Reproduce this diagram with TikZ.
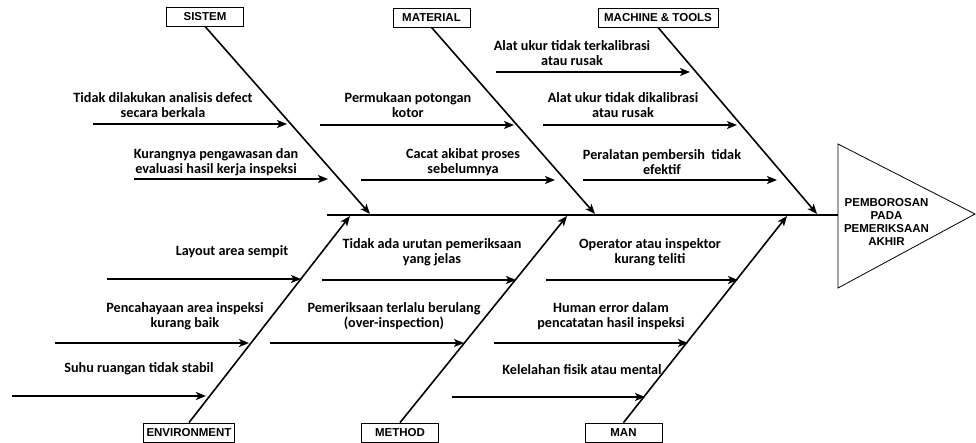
\documentclass[tikz,border=0pt]{standalone}
\usepackage{fontspec}
\setmainfont{Carlito}
\newfontfamily\arialfont{Liberation Sans}
\usepackage{tikz}
\usetikzlibrary{calc,positioning,arrows.meta}

\tikzset{
	cause/.style={font=\bfseries\fontsize{14.2}{15}\selectfont,align=center,inner sep=0pt},
	catbox/.style={draw,line width=0.8pt,font=\arialfont\bfseries\fontsize{11.5}{13}\selectfont,
		minimum width=77pt,minimum height=19pt,inner xsep=3pt,inner ysep=0pt},
	bone/.style={line width=1.6pt},
	twig/.style={line width=1.5pt},
	spine/.style={line width=2.6pt}
}

\begin{document}
\begin{tikzpicture}[x=1pt,y=-1pt,>={Stealth[length=10pt,width=8pt,inset=2.5pt]}]
		\useasboundingbox (0,0) rectangle (976,443);
		\begin{scope}
			\coordinate (tail) at (327,215);
			\coordinate (head) at (838,215);
			\draw[line width=0.8pt] (head) -- (838,144) -- (975,214) -- (838,288) -- cycle;
			\draw[spine] (tail) -- (head);
			\node (effect) at (886.5,221.5) [align=center,font=\arialfont\bfseries\fontsize{11.5}{13}\selectfont]
				{PEMBOROSAN\\PADA\\PEMERIKSAAN\\AKHIR};

			\node (sistem) at (205,16.5) [catbox] {SISTEM};
			\node (material) at (431.5,17.5) [catbox] {MATERIAL};
			\node (machine) at (658,17.5) [catbox,minimum width=120pt] {MACHINE \& TOOLS};
			\node (environment) at (189,432.5) [catbox] {ENVIRONMENT};
			\node (method) at (400,432.5) [catbox] {METHOD};
			\node (man) at (623.5,432.5) [catbox] {MAN};

			\coordinate (sistemtip) at (370,214);
			\coordinate (materialtip) at (595,214);
			\coordinate (machinetip) at (817,214);
			\coordinate (environmenttip) at (350,216);
			\coordinate (methodtip) at (567,216);
			\coordinate (mantip) at (787,216);
			\draw[bone,->] (sistem.south) -- (sistemtip);
			\draw[bone,->] (material.south) -- (materialtip);
			\draw[bone,->] (machine.south) -- (machinetip);
			\draw[bone,->] (environment.north) -- (environmenttip);
			\draw[bone,->] (method.north) -- (methodtip);
			\draw[bone,->] (man.north) -- (mantip);

			\node (s1) at (163,105.5) [cause] {Tidak dilakukan analisis defect\\secara berkala};
			\coordinate (s1a) at (93,124);
			\draw[twig,->] (s1a) -- ($(s1a)+(194,0)$);
			\node (s2) at (216,162) [cause] {Kurangnya pengawasan dan\\evaluasi hasil kerja inspeksi};
			\coordinate (s2a) at (134,179);
			\draw[twig,->] (s2a) -- ($(s2a)+(194,0)$);

			\node (m1) at (408,105.5) [cause] {Permukaan potongan\\kotor};
			\coordinate (m1a) at (320,125);
			\draw[twig,->] (m1a) -- ($(m1a)+(194,0)$);
			\node (m2) at (463,162) [cause] {Cacat akibat proses\\sebelumnya};
			\coordinate (m2a) at (361,180);
			\draw[twig,->] (m2a) -- ($(m2a)+(194,0)$);

			\node (t1) at (572,53.5) [cause] {Alat ukur tidak terkalibrasi\\atau rusak};
			\coordinate (t1a) at (496,72);
			\draw[twig,->] (t1a) -- ($(t1a)+(194,0)$);
			\node (t2) at (623,105.5) [cause] {Alat ukur tidak dikalibrasi\\atau rusak};
			\coordinate (t2a) at (543,125);
			\draw[twig,->] (t2a) -- ($(t2a)+(194,0)$);
			\node (t3) at (662,162) [cause] {Peralatan pembersih\ \ tidak\\efektif};
			\coordinate (t3a) at (583,180);
			\draw[twig,->] (t3a) -- ($(t3a)+(194,0)$);

			\node (e1) at (232,252) [cause] {Layout area sempit};
			\coordinate (e1a) at (107,279);
			\draw[twig,->] (e1a) -- ($(e1a)+(194,0)$);
			\node (e2) at (185,316) [cause] {Pencahayaan area inspeksi\\kurang baik};
			\coordinate (e2a) at (55,343);
			\draw[twig,->] (e2a) -- ($(e2a)+(194,0)$);
			\node (e3) at (139,369) [cause] {Suhu ruangan tidak stabil};
			\coordinate (e3a) at (12,396);
			\draw[twig,->] (e3a) -- ($(e3a)+(194,0)$);

			\node (d1) at (432,252.5) [cause] {Tidak ada urutan pemeriksaan\\yang jelas};
			\coordinate (d1a) at (322,280);
			\draw[twig,->] (d1a) -- ($(d1a)+(194,0)$);
			\node (d2) at (394,316) [cause] {Pemeriksaan terlalu berulang\\(over-inspection)};
			\coordinate (d2a) at (270,343);
			\draw[twig,->] (d2a) -- ($(d2a)+(194,0)$);

			\node (n1) at (650,252.5) [cause] {Operator atau inspektor\\kurang teliti};
			\coordinate (n1a) at (546,280);
			\draw[twig,->] (n1a) -- ($(n1a)+(192,0)$);
			\node (n2) at (611,316) [cause] {Human error dalam\\pencatatan hasil inspeksi};
			\coordinate (n2a) at (494,343);
			\draw[twig,->] (n2a) -- ($(n2a)+(194,0)$);
			\node (n3) at (582,370) [cause] {Kelelahan fisik atau mental};
			\coordinate (n3a) at (452,397);
			\draw[twig,->] (n3a) -- ($(n3a)+(193,0)$);
		\end{scope}
	\end{tikzpicture}
\end{document}
